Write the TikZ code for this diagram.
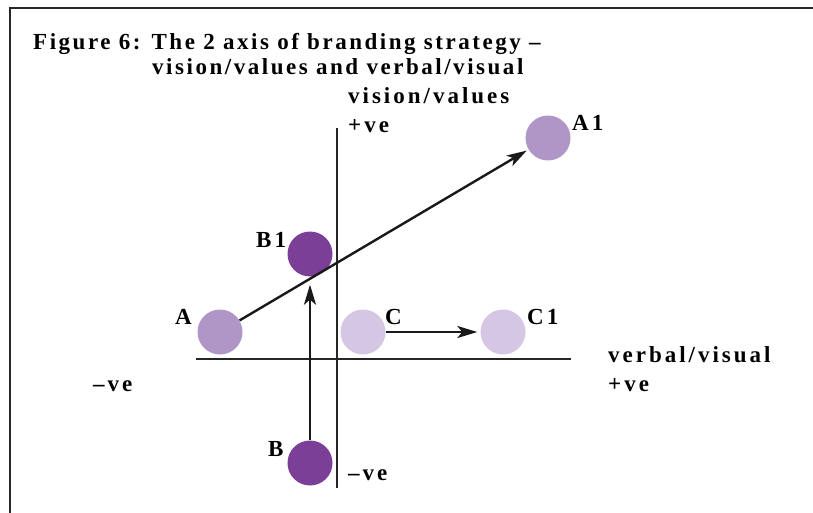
\documentclass[tikz,border=0pt]{standalone}
\usepackage{fontspec}
\setmainfont{Liberation Serif}
\newfontfamily\tagfont[LetterSpace=13]{Liberation Serif}
\newfontfamily\headfont[LetterSpace=11]{Liberation Serif}
\usetikzlibrary{arrows.meta}
\definecolor{plumdark}{HTML}{7C3F98}
\definecolor{plummid}{HTML}{B096C6}
\definecolor{plumpale}{HTML}{D5C7E3}
\tikzset{
  branddot/.style={circle,fill=#1,minimum size=45pt,inner sep=0pt},
  axisline/.style={line width=2.6pt,black!85},
  pushline/.style={line width=2.4pt,black!90,-{Stealth[length=20pt,width=12pt,inset=5pt]}},
  tag/.style={anchor=base west,inner sep=0pt,font=\tagfont\bfseries\fontsize{23}{27}\selectfont},
  heading/.style={anchor=base west,inner sep=0pt,font=\headfont\bfseries\fontsize{23}{27}\selectfont},
}
% #1 name, #2 x, #3 y, #4 colour
\newcommand{\brandpoint}[4]{%
  \node[branddot=#4] (#1) at (#2,#3) {};
}

\begin{document}
\begin{tikzpicture}[x=1pt,y=-1pt]
  \useasboundingbox (0,0) rectangle (813,513);
  % frame
  \coordinate (frameA) at (10,513);
  \coordinate (frameB) at (10,8);
  \coordinate (frameC) at (813,8);
  \draw[line width=2.5pt,black!85] (frameA) -- (frameB) -- (frameC);
  % title
  \node[heading] (title1) at (33,50) {Figure 6: The 2 axis of branding strategy –};
  \node[heading] (title2) at (152,75) {vision/values and verbal/visual};
  % axes
  \coordinate (xl) at (196,359);
  \coordinate (xr) at (571,359);
  \coordinate (yt) at (337,128);
  \coordinate (yb) at (337,488);
  \draw[axisline] (xl) -- (xr);
  \draw[axisline] (yt) -- (yb);
  % axis labels
  \node[tag] (vv) at (348,104) {vision/values};
  \node[tag] (vvpos) at (348,133) {+ve};
  \node[tag] (vvneg) at (348,480) {–ve};
  \node[tag] (vis) at (608,362) {verbal/visual};
  \node[tag] (vispos) at (608,391) {+ve};
  \node[tag] (visneg) at (93,391) {–ve};
  % points
  \brandpoint{A}{220}{332}{plummid}
  \brandpoint{A1}{548}{138}{plummid}
  \brandpoint{B}{310}{463}{plumdark}
  \brandpoint{B1}{310}{254}{plumdark}
  \brandpoint{C}{363}{332}{plumpale}
  \brandpoint{C1}{503}{332}{plumpale}
  \node[tag] (lA) at (175,324) {A};
  \node[tag] (lA1) at (572,131) {A1};
  \node[tag] (lB) at (268,456) {B};
  \node[tag] (lB1) at (256,247) {B1};
  \node[tag] (lC) at (385,324) {C};
  \node[tag] (lC1) at (527,324) {C1};
  % moves
  \draw[pushline,shorten >=2pt] (A) -- (A1);
  \draw[pushline,shorten >=8pt] (B) -- (B1);
  \draw[pushline,shorten >=3pt] (C) -- (C1);
\end{tikzpicture}
\end{document}
